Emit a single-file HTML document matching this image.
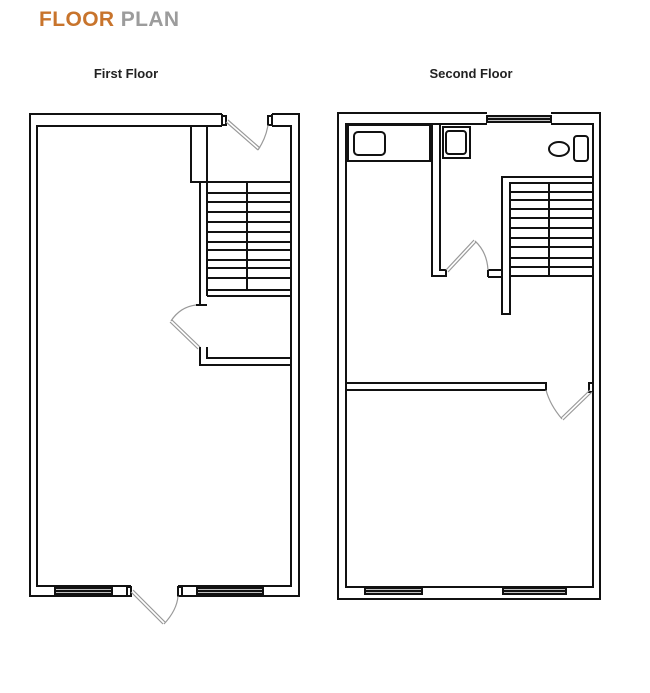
<!DOCTYPE html>
<html><head><meta charset="utf-8"><style>
html,body{margin:0;padding:0;background:#fff;width:650px;height:693px;overflow:hidden}
</style></head><body>
<svg width="650" height="693" viewBox="0 0 650 693" xmlns="http://www.w3.org/2000/svg" style="display:block">
<text x="39" y="26" font-family="Liberation Sans, sans-serif" font-weight="bold" font-size="21" letter-spacing="0.4"><tspan fill="#c8742c">FLOOR</tspan><tspan fill="#9c9c9c"> PLAN</tspan></text>
<text x="126" y="78" text-anchor="middle" font-family="Liberation Sans, sans-serif" font-weight="bold" font-size="13" fill="#222">First Floor</text>
<text x="471" y="78" text-anchor="middle" font-family="Liberation Sans, sans-serif" font-weight="bold" font-size="13" fill="#222">Second Floor</text>

<g fill="none" stroke="#111" stroke-width="2">
<!-- FIRST FLOOR -->
<path d="M222,114 H30 V596 H131 M178,596 H299 V114 H272"/>
<path d="M222,126 H37 V586 H131 M178,586 H291 V126 H272"/>
<path d="M222,114 V126 M272,114 V126"/>
<rect x="222" y="116" width="4" height="9"/><rect x="268" y="116" width="4" height="9"/>
<rect x="55" y="588" width="57" height="6"/><line x1="55" y1="591" x2="112" y2="591" stroke-width="2.4"/>
<rect x="197" y="588" width="66" height="6"/><line x1="197" y1="591" x2="263" y2="591" stroke-width="2.4"/>
<rect x="127" y="587" width="4" height="9"/><rect x="178" y="587" width="4" height="9"/>
<rect x="191" y="126" width="16" height="56"/>
<path d="M207,182 H291 M200,182 V305 M207,182 V296 M247,182 V290 M207,290 H291"/>
<path d="M207,193 H291 M207,202 H291 M207,212 H291 M207,222 H291 M207,232 H291 M207,242 H291 M207,250 H291 M207,260 H291 M207,268 H291 M207,278 H291"/>
<path d="M207,296 H291 M207,347 V358 H291 M200,347 V365 H291"/>
<path d="M196,305 H207" stroke-width="2"/>
<!-- SECOND FLOOR -->
<path d="M487,113 H338 V599 H600 V113 H551"/>
<path d="M487,124 H346 V587 H593 V124 H551"/>
<rect x="487" y="116" width="64" height="6"/><line x1="487" y1="119" x2="551" y2="119" stroke-width="2.4"/>
<rect x="365" y="588" width="57" height="6"/><line x1="365" y1="591" x2="422" y2="591" stroke-width="2.4"/>
<rect x="503" y="588" width="63" height="6"/><line x1="503" y1="591" x2="566" y2="591" stroke-width="2.4"/>
<rect x="348" y="125" width="82" height="36"/>
<rect x="354" y="132" width="31" height="23" rx="4"/>
<path d="M432,124 V276 H446 V270 H440 V124"/>
<rect x="443" y="127" width="27" height="31"/>
<rect x="446" y="131" width="20" height="23" rx="3"/>
<ellipse cx="559" cy="149" rx="10" ry="7"/>
<rect x="574" y="136" width="14" height="25" rx="3"/>
<path d="M593,177 H502 V314 H510 V183 H593"/>
<path d="M488,270 H502 M488,277 H502 M488,270 V277"/>
<path d="M549,183 V276 M510,276 H593"/>
<path d="M510,192 H593 M510,200 H593 M510,209 H593 M510,218 H593 M510,228 H593 M510,238 H593 M510,247 H593 M510,258 H593 M510,267 H593"/>
<path d="M346,383 H546 V390 H346"/>
<rect x="589" y="383" width="4" height="9"/>
</g>
<g fill="none" stroke="#999" stroke-width="1.2">
<path d="M226,122 L258,150 M228,120 L260,148"/>
<path d="M258,150 Q266,138 268,125"/>
<path d="M200,347 L172,320 M198,349 L170,322"/>
<path d="M171,321 Q180,307 196,305"/>
<path d="M131,592 L163,624 M133,590 L165,622"/>
<path d="M164,624 Q177,610 178,596"/>
<path d="M446,270 L474,240 M448,272 L476,242"/>
<path d="M475,241 Q487,252 488,270"/>
<path d="M590,390 L561,418 M592,392 L563,420"/>
<path d="M562,419 Q550,405 546,390"/>
</g>
</svg>
</body></html>
